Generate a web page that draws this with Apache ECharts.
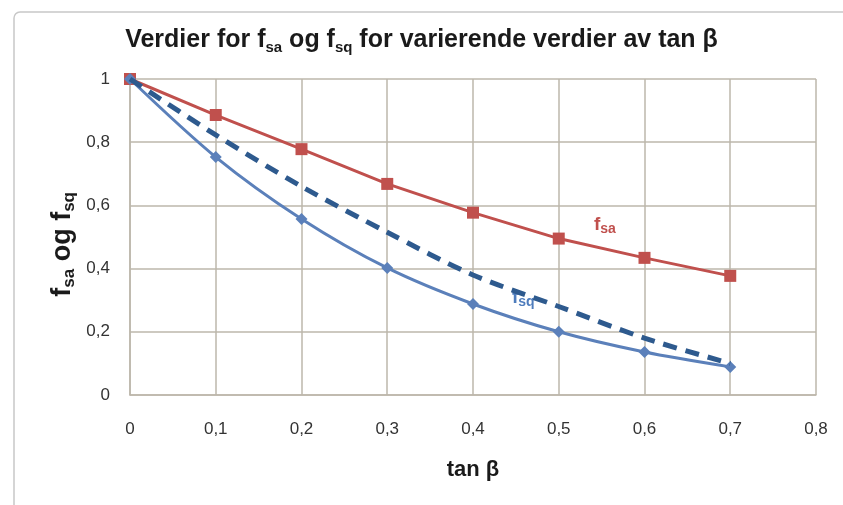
<!DOCTYPE html>
<html>
<head>
<meta charset="utf-8">
<script src="https://cdn.jsdelivr.net/npm/echarts@6/dist/echarts.min.js"></script>
<style>
  html, body { margin: 0; padding: 0; background: #fff; }
  #chart { width: 843px; height: 505px; }
</style>
</head>
<body>
<div id="chart"></div>
<script>
// tan beta verdier
var tanB = [0, 0.1, 0.2, 0.3, 0.4, 0.5, 0.6, 0.7];
var fsa = [1, 0.886, 0.778, 0.668, 0.577, 0.495, 0.434, 0.377];
var fsq = [1, 0.753, 0.557, 0.402, 0.288, 0.200, 0.136, 0.089];
var fsqDash = [1, 0.823, 0.66, 0.515, 0.38, 0.28, 0.18, 0.10];

var pairs = function (ys) {
    return tanB.map(function (x, i) { return [x, ys[i]]; });
};
var komma = function (v) { return String(Math.round(v * 10) / 10).replace('.', ','); };

var myChart = echarts.init(document.getElementById('chart'));
var gridCol = '#BDB7AB';

myChart.setOption({
    animation: false,
    title: {
        text: '{t|Verdier for f}{s|sa}{t| og f}{s|sq}{t| for varierende verdier av tan β}',
        left: 'center',
        top: 20,
        textStyle: {
            rich: {
                t: { fontFamily: 'Liberation Sans Narrow, Liberation Sans', fontSize: 25, fontWeight: 'bold', color: '#1a1a1a' },
                s: { fontFamily: 'Liberation Sans Narrow, Liberation Sans', fontSize: 15, fontWeight: 'bold', color: '#1a1a1a', verticalAlign: 'bottom', padding: [15, 0, 0, 0] }
            }
        }
    },
    grid: { left: 130, right: 27, top: 79, bottom: 110 },
    xAxis: {
        type: 'value', min: 0, max: 0.8, interval: 0.1,
        name: 'tan β', nameLocation: 'middle', nameGap: 64,
        nameTextStyle: { fontFamily: 'Liberation Sans', fontSize: 22, fontWeight: 'bold', color: '#1a1a1a' },
        axisLine: { lineStyle: { color: gridCol, width: 1.5 } },
        axisTick: { show: false },
        axisLabel: { formatter: komma, margin: 26, fontFamily: 'Liberation Sans', fontSize: 17, color: '#333' },
        splitLine: { lineStyle: { color: gridCol, width: 1.5 } }
    },
    yAxis: {
        type: 'value', min: 0, max: 1, interval: 0.2,
        axisLine: { show: true, lineStyle: { color: gridCol, width: 1.5 } },
        axisTick: { show: false },
        axisLabel: { formatter: komma, margin: 20, fontFamily: 'Liberation Sans', fontSize: 17, color: '#333' },
        splitLine: { lineStyle: { color: gridCol, width: 1.5 } }
    },
    graphic: [
        {
            type: 'rect', silent: true, z: -1,
            shape: { x: 14, y: 12, width: 860, height: 520, r: 6 },
            style: { fill: 'none', stroke: '#C8C8C8', lineWidth: 1.5 }
        },
        {
            type: 'text', left: 49, top: 192, rotation: Math.PI / 2,
            style: {
                text: '{t|f}{s|sa}{t| og f}{s|sq}',
                rich: {
                    t: { fontFamily: 'Liberation Sans', fontSize: 27, fontWeight: 'bold', fill: '#1a1a1a' },
                    s: { fontFamily: 'Liberation Sans', fontSize: 17, fontWeight: 'bold', fill: '#1a1a1a', verticalAlign: 'bottom', padding: [14, 0, 0, 0] }
                }
            }
        },
        {
            type: 'text', left: 594, top: 215,
            style: {
                text: '{t|f}{s|sa}',
                rich: {
                    t: { fontFamily: 'Liberation Sans', fontSize: 19, fontWeight: 'bold', fill: '#C0504D' },
                    s: { fontFamily: 'Liberation Sans', fontSize: 14, fontWeight: 'bold', fill: '#C0504D', verticalAlign: 'bottom', padding: [10, 0, 0, 0] }
                }
            }
        },
        {
            type: 'text', left: 512, top: 288,
            style: {
                text: '{t|f}{s|sq}',
                rich: {
                    t: { fontFamily: 'Liberation Sans', fontSize: 19, fontWeight: 'bold', fill: '#4F7DBD' },
                    s: { fontFamily: 'Liberation Sans', fontSize: 14, fontWeight: 'bold', fill: '#4F7DBD', verticalAlign: 'bottom', padding: [10, 0, 0, 0] }
                }
            }
        }
    ],
    series: [
        {
            name: 'fsa', type: 'line', data: pairs(fsa),
            symbol: 'rect', symbolSize: 12,
            lineStyle: { color: '#C0504D', width: 3 },
            itemStyle: { color: '#C0504D' }, z: 3
        },
        {
            name: 'fsq', type: 'line', data: pairs(fsq), smooth: 0.3,
            symbol: 'diamond', symbolSize: 12,
            lineStyle: { color: '#5B80BA', width: 3 },
            itemStyle: { color: '#5B80BA' }, z: 4
        },
        {
            name: 'fsq approks', type: 'line', data: pairs(fsqDash), smooth: 0.3,
            symbol: 'none',
            lineStyle: { color: '#2E5A8E', width: 5, type: [14, 9] }, z: 5
        }
    ]
});
</script>
</body>
</html>
